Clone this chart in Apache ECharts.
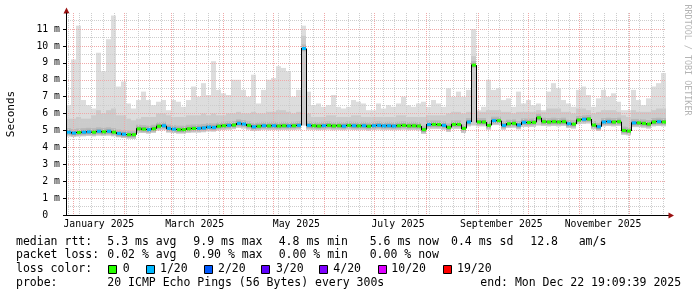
<!DOCTYPE html>
<html><head><meta charset="utf-8">
<script src="https://cdn.jsdelivr.net/npm/echarts@6/dist/echarts.min.js"></script>
<style>html,body{margin:0;padding:0;background:#fff}#c{width:697px;height:297px}</style>
</head><body><div id="c"></div><script>
// ---- time frame (360 days ending at the "end:" time) ----
const START = Date.UTC(2024, 11, 27, 19, 9, 39);
const END = Date.UTC(2025, 11, 22, 19, 9, 39);
const BIN_DAYS = 3;

// ---- series values (ms), one per 3-day bin ----
const median = [
 4.9,4.85,4.88,4.9,4.92,4.9,4.95,4.92,4.95,4.9,
 4.82,4.78,4.75,4.75,5.1,5.08,5.05,5.1,5.25,5.28,
 5.12,5.08,5.05,5.05,5.1,5.12,5.12,5.15,5.2,5.18,
 5.25,5.28,5.3,5.32,5.42,
 5.38,5.3,5.22,5.25,5.28,5.27,5.28,5.26,5.28,5.27,5.28,5.3,9.85,5.3,
 5.28,5.26,5.28,5.3,5.27,5.28,5.26,5.3,5.28,5.27,5.28,5.25,5.28,5.3,5.27,5.28,5.26,5.28,5.3,5.27,5.28,5.26,
 5.05,5.35,5.36,5.35,5.3,5.18,5.36,5.36,5.12,5.5,8.87,
 5.5,5.5,5.3,5.58,5.58,5.3,5.4,5.42,5.32,5.48,5.47,5.48,
 5.75,5.52,5.5,5.52,5.5,5.52,5.4,5.38,5.62,5.66,5.68,5.32,5.22,
 5.5,5.52,5.5,5.52,5.0,4.97,5.45,5.45,5.42,5.38,5.5,5.52,5.5
];
const smokeTop = [
 6.5,9.2,11.2,6.8,6.5,6.3,9.6,8.5,10.4,11.8,7.6,7.9,6.6,6.3,6.8,7.3,6.8,6.5,6.7,6.8,
 6.2,6.8,6.7,6.4,6.8,7.6,7.0,7.8,7.1,9.1,7.4,7.2,7.1,8.0,8.0,
 7.4,7.0,8.3,6.6,7.4,8.0,8.1,8.8,8.7,8.5,7.0,7.4,11.2,7.3,
 6.5,6.6,6.4,6.5,7.1,6.4,6.3,6.4,6.8,6.7,6.6,6.2,6.2,6.6,6.3,6.5,6.4,6.6,7.0,6.5,6.4,6.6,
 6.7,6.4,6.8,6.6,6.4,7.5,7.0,7.3,7.0,7.4,11.0,
 6.2,6.4,8.0,7.4,7.5,6.8,6.9,6.4,7.3,6.6,6.8,6.5,
 6.6,6.2,7.3,7.8,7.5,6.8,6.6,6.4,7.4,7.6,7.1,6.4,6.9,
 7.4,7.0,7.2,6.7,6.2,6.2,7.4,6.8,6.5,6.9,7.6,7.8,8.4
];
const smokeMid = [
 5.7,5.7,5.8,5.7,5.7,5.9,6.2,6.0,6.2,6.3,5.9,5.9,5.7,5.6,5.7,5.8,5.8,5.8,6.0,6.0,
 5.9,5.8,5.8,5.8,5.9,5.9,5.9,6.0,5.9,6.0,5.9,5.9,6.0,6.0,6.1,
 6.0,6.0,6.1,6.0,6.0,6.1,6.1,6.2,6.2,6.1,6.0,6.1,10.6,6.0,
 5.8,5.8,5.8,5.9,5.9,5.8,5.8,5.8,5.9,5.9,5.8,5.8,5.8,5.8,5.8,5.8,5.8,5.9,5.9,5.8,5.8,5.8,
 5.8,5.9,5.9,5.9,5.9,6.0,6.1,6.1,6.0,6.1,9.4,
 6.1,6.1,6.2,6.2,6.2,6.1,6.1,6.0,6.1,6.1,6.1,6.1,
 6.2,6.1,6.3,6.3,6.3,6.1,6.1,6.0,6.3,6.3,6.2,6.0,6.1,
 6.2,6.2,6.2,6.1,5.9,5.8,6.2,6.1,6.1,6.1,6.2,6.3,6.3
];
const smokeLow = [
 4.65,4.62,4.65,4.66,4.68,4.66,4.7,4.68,4.7,4.66,4.6,4.56,4.52,4.5,4.85,4.85,4.82,4.86,5.0,5.02,
 4.88,4.85,4.82,4.82,4.86,4.88,4.88,4.9,4.95,4.94,5.0,5.03,5.05,5.08,5.16,
 5.12,5.05,4.98,5.0,5.04,5.02,5.03,5.02,5.03,5.02,5.03,5.05,5.3,5.05,
 5.03,5.02,5.03,5.05,5.02,5.03,5.02,5.05,5.03,5.02,5.03,5.0,5.03,5.05,5.02,5.03,5.02,5.03,5.05,5.02,5.03,5.01,
 4.8,5.1,5.1,5.1,5.05,4.92,5.1,5.1,4.85,5.25,5.3,
 5.25,5.25,5.05,5.32,5.32,5.05,5.15,5.17,5.07,5.22,5.22,5.22,
 5.3,5.27,5.25,5.27,5.25,5.27,5.15,5.12,5.37,5.4,5.42,5.07,4.97,
 5.25,5.27,5.25,5.27,4.75,4.72,5.2,5.2,5.17,5.12,5.25,5.27,5.25
];
// pings lost out of 20 per bin
const lossPings = [
 1,1,0,1,1,0,1,0,1,0,1,1,0,0,0,0,1,0,0,1,1,1,0,0,0,0,1,1,1,1,0,0,1,0,1,
 1,0,1,0,1,0,1,0,0,1,0,1,1,1,
 0,0,1,0,0,0,1,0,1,0,1,0,1,1,1,1,1,0,0,0,0,0,
 0,1,0,0,1,0,0,0,0,1,0,
 0,0,0,1,0,1,0,0,1,1,0,0,
 0,0,0,0,0,0,1,0,0,1,0,0,1,
 1,1,0,0,0,0,1,0,0,0,0,1,0
];
const lossThresholds = [0, 1, 2, 3, 4, 10, 19];
const lossLabels = ['0', '1/20', '2/20', '3/20', '4/20', '10/20', '19/20'];
const lossColors = ['#26ff00', '#00b8ff', '#0059ff', '#5e00ff', '#7e00ff', '#dd00ff', '#ff0000'];

// ---- axis ticks / labels ----
const monthStarts = ['2025-01-01','2025-02-01','2025-03-01','2025-04-01','2025-05-01','2025-06-01',
  '2025-07-01','2025-08-01','2025-09-01','2025-10-01','2025-11-01','2025-12-01'];
const monthLabels = ['January 2025','March 2025','May 2025','July 2025','September 2025','November 2025'];
const monthLabelDates = ['2025-01-16T12:00:00Z','2025-03-15T00:00:00Z','2025-05-15T00:00:00Z',
  '2025-07-15T00:00:00Z','2025-09-15T00:00:00Z','2025-11-15T00:00:00Z'];
const firstWeekLine = '2024-12-29T00:00:00Z';
const yTicks = [0,1,2,3,4,5,6,7,8,9,10,11];
const yHalfTicks = [0.5,1.5,2.5,3.5,4.5,5.5,6.5,7.5,8.5,9.5,10.5,11.5];
const yMax = 11.95;

// ---- legend text ----
const rttStats = ['5.3 ms avg', '9.9 ms max', '4.8 ms min', '5.6 ms now', '0.4 ms sd', '12.8', 'am/s'];
const lossStats = ['0.02 % avg', '0.90 % max', '0.00 % min', '0.00 % now'];
const probeText = '20 ICMP Echo Pings (56 Bytes) every 300s';
const endText = 'end: Mon Dec 22 19:09:39 2025';

// ---------------------------------------------------------
const DAY = 86400000;
const MONO = 'DejaVu Sans Mono';
const toT = s => new Date(s.length === 10 ? s + 'T00:00:00Z' : s).getTime();
const monthTimes = monthStarts.map(toT);
const labelTimes = monthLabelDates.map(toT);
const weekTimes = [];
for (let t = toT(firstWeekLine); t < END; t += 7 * DAY) weekTimes.push(t);

const rows = median.map((m, i) => [
  START + i * BIN_DAYS * DAY, START + (i + 1) * BIN_DAYS * DAY,
  smokeLow[i], smokeMid[i], smokeTop[i], m, lossPings[i]
]);
function lossIndex(v) {
  let k = 0;
  for (let j = 0; j < lossThresholds.length; j++) if (v >= lossThresholds[j]) k = j;
  return k;
}

const gridRed = '#efa8a8', gridGray = '#cdcdcd';

const graphic = [];
function txt(x, y, s, extra) {
  graphic.push(Object.assign({
    type: 'text', x: x, y: y, silent: true,
    style: { text: s, font: '11.5px "' + MONO + '"', fill: '#000', align: 'left', verticalAlign: 'middle' }
  }, extra || {}));
}
const L1 = 241.7, L2 = 255.3, L3 = 269.3, L4 = 282.7;
const colX = [107.3, 193.3, 278.7, 369.7, 451, 530.3, 578.7];
txt(16, L1, 'median rtt:');
rttStats.forEach((s, i) => txt(colX[i], L1, s));
txt(16, L2, 'packet loss:');
lossStats.forEach((s, i) => txt(colX[i], L2, s));
txt(16, L3, 'loss color:');
const sqX = [108, 146, 203.5, 261, 319.3, 377.7, 443];
const lblX = [122.7, 160, 218, 276, 333.3, 391.3, 457];
lossLabels.forEach((s, i) => {
  graphic.push({ type: 'rect', silent: true, shape: { x: Math.round(sqX[i]) + 0.5, y: 265.5, width: 8, height: 8 },
    style: { fill: lossColors[i], stroke: '#000', lineWidth: 1 } });
  txt(lblX[i], L3, s);
});
txt(16, L4, 'probe:');
txt(107.3, L4, probeText);
txt(480.3, L4, endText);
// axis title and watermark
graphic.push({ type: 'text', x: 11, y: 114, rotation: Math.PI / 2, silent: true,
  style: { text: 'Seconds', font: '11px "' + MONO + '"', fill: '#000', align: 'center', verticalAlign: 'middle' } });
graphic.push({ type: 'text', x: 687, y: 60, rotation: -Math.PI / 2, silent: true,
  style: { text: 'RRDTOOL / TOBI OETIKER', font: '8.4px "' + MONO + '"', fill: '#b4b4b4', align: 'center', verticalAlign: 'middle' } });
// axis arrows
graphic.push({ type: 'line', silent: true, shape: { x1: 666, y1: 215.5, x2: 670, y2: 215.5 }, style: { stroke: '#000', lineWidth: 1 } });
graphic.push({ type: 'polygon', silent: true, shape: { points: [[66.5, 7.5], [63.5, 13.5], [69.5, 13.5]] }, style: { fill: '#9a1010' } });
graphic.push({ type: 'polygon', silent: true, shape: { points: [[674, 215.5], [668.5, 212.5], [668.5, 218.5]] }, style: { fill: '#9a1010' } });

const chart = echarts.init(document.getElementById('c'), null, { renderer: 'canvas', devicePixelRatio: 1 });
chart.setOption({
  animation: false,
  backgroundColor: '#fff',
  grid: { left: 66, top: 13, width: 600, height: 202, containLabel: false },
  xAxis: [
    { type: 'value', min: START, max: END, z: 3, scale: true,
      axisLine: { show: true, onZero: false, lineStyle: { color: '#000', width: 1 } },
      axisTick: { show: false, customValues: monthTimes },
      splitLine: { show: true, lineStyle: { color: gridRed, width: 1, type: [1, 1] } },
      axisLabel: { show: true, customValues: labelTimes, hideOverlap: false,
        formatter: (v) => monthLabels[labelTimes.indexOf(+v)] || '',
        fontFamily: MONO, fontSize: 9.8, color: '#000', margin: 4 } },
    { type: 'value', min: START, max: END, z: 2, position: 'bottom', scale: true,
      axisLine: { show: false, onZero: false }, axisLabel: { show: false },
      axisTick: { show: false, customValues: weekTimes },
      splitLine: { show: true, lineStyle: { color: gridGray, width: 1, type: [1, 1] } } }
  ],
  yAxis: [
    { type: 'value', min: 0, max: yMax, interval: 1, z: 3,
      axisLine: { show: true, lineStyle: { color: '#000', width: 1 } },
      axisTick: { show: true, length: 3, customValues: yTicks, lineStyle: { color: '#000' } },
      axisLabel: { customValues: yTicks, formatter: v => (+v === 0 ? '0  ' : v + ' m'),
        fontFamily: MONO, fontSize: 9.8, color: '#000', margin: 6 },
      splitLine: { show: true, lineStyle: { color: gridRed, width: 1, type: [1, 1] } } },
    { type: 'value', min: 0, max: yMax, z: 2, position: 'left',
      axisLine: { show: false }, axisLabel: { show: false },
      axisTick: { show: false, customValues: yHalfTicks },
      splitLine: { show: true, lineStyle: { color: gridGray, width: 1, type: [1, 1] } } }
  ],
  series: [
    { type: 'custom', name: 'smoke', z: 1, xAxisIndex: 0, yAxisIndex: 0, clip: true,
      data: rows, encode: { x: [0, 1], y: [2, 4] },
      renderItem(params, api) {
        const x0 = api.coord([api.value(0), 0])[0];
        const x1 = api.coord([api.value(1), 0])[0];
        const yl = api.coord([api.value(0), api.value(2)])[1];
        const ym = api.coord([api.value(0), api.value(3)])[1];
        const yt = api.coord([api.value(0), api.value(4)])[1];
        const yMed = api.coord([api.value(0), api.value(5)])[1];
        const w = x1 - x0;
        return { type: 'group', children: [
          { type: 'rect', shape: { x: x0, y: yt, width: w, height: yl - yt }, style: { fill: '#dddddd' } },
          { type: 'rect', shape: { x: x0, y: ym, width: w, height: yl - ym }, style: { fill: '#cbcbcb' } },
          { type: 'rect', shape: { x: x0, y: yMed - 4, width: w, height: 7 }, style: { fill: '#b8b8b8' } },
          { type: 'rect', shape: { x: x0, y: yMed - 2, width: w, height: 4 }, style: { fill: '#9e9e9e' } }
        ] };
      } },
    { type: 'custom', name: 'median', z: 4, xAxisIndex: 0, yAxisIndex: 0, clip: true,
      data: rows, encode: { x: [0, 1], y: 5 },
      renderItem(params, api) {
        const i = params.dataIndex;
        const x0 = api.coord([api.value(0), 0])[0];
        const x1 = api.coord([api.value(1), 0])[0];
        const y = api.coord([api.value(0), api.value(5)])[1];
        const ch = [];
        if (i > 0) {
          const yp = api.coord([api.value(0), median[i - 1]])[1];
          ch.push({ type: 'line', shape: { x1: x0 + 0.5, y1: yp, x2: x0 + 0.5, y2: y }, style: { stroke: '#000', lineWidth: 1 } });
        }
        ch.push({ type: 'line', shape: { x1: x0, y1: y, x2: x1, y2: y }, style: { stroke: '#000', lineWidth: 1 } });
        ch.push({ type: 'rect', shape: { x: x0 + 1, y: y - 1.5, width: x1 - x0 - 1, height: 3 },
          style: { fill: lossColors[lossIndex(api.value(6))] } });
        return { type: 'group', children: ch };
      } }
  ],
  graphic: graphic
});
</script></body></html>
